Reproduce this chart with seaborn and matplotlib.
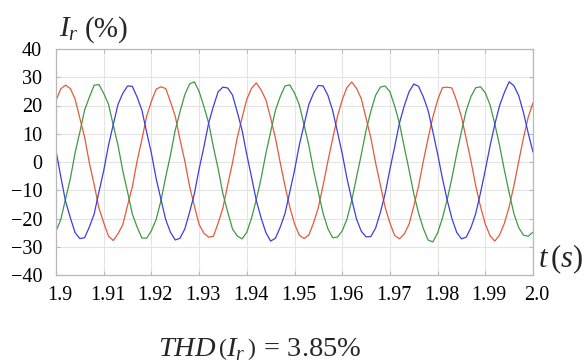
import numpy as np
import pandas as pd
import matplotlib
matplotlib.use("Agg")
import matplotlib.pyplot as plt
import matplotlib.transforms as mtransforms
import seaborn as sns

# time axis (s), step 1 ms
t_start = 1.9
t_step = 0.001

# phase currents (%)
red = [21.8, 25.9, 27.2, 26.0, 22.3, 15.5, 8.8, -0.4, -8.0, -16.3,
       -21.5, -26.2, -27.8, -25.4, -22.2, -15.4, -8.8, 0.3, 7.9, 16.2,
       21.5, 25.8, 26.6, 26.0, 21.3, 16.2, 7.9, 0.4, -8.6, -15.5,
       -22.1, -25.2, -26.6, -26.3, -21.6, -16.2, -8.0, -0.3, 8.6, 15.6,
       22.2, 26.1, 28.0, 25.5, 22.0, 15.6, 8.5, -0.2, -8.4, -15.9,
       -21.9, -25.9, -27.1, -25.9, -21.5, -16.1, -8.2, 0.3, 8.2, 16.1,
       22.0, 26.4, 28.3, 26.1, 22.4, 15.5, 8.6, -0.3, -8.1, -16.0,
       -21.6, -26.0, -27.2, -25.5, -22.1, -15.7, -8.6, 0.2, 8.3, 15.8,
       21.9, 26.3, 26.5, 26.2, 21.6, 16.0, 8.2, 0.3, -8.5, -15.8,
       -22.0, -26.1, -28.0, -25.8, -21.7, -15.9, -8.4, 0.2, 8.5, 15.9,
       21.0]
green = [-24.5, -20.4, -13.1, -5.9, 3.2, 10.6, 18.4, 23.0, 27.2, 27.4,
         24.3, 20.5, 13.1, 5.9, -3.1, -10.6, -18.4, -23.0, -26.9, -27.0,
         -24.3, -20.3, -13.7, -5.3, 2.5, 11.3, 17.8, 23.8, 27.6, 28.4,
         25.0, 19.7, 13.8, 5.3, -2.5, -11.3, -17.7, -23.7, -26.2, -27.2,
         -24.9, -19.8, -13.3, -5.8, 3.0, 10.7, 18.3, 23.1, 26.9, 27.3,
         24.4, 20.3, 13.2, 5.9, -3.0, -10.7, -18.2, -23.6, -26.8, -26.6,
         -24.4, -20.2, -13.6, -5.4, 2.6, 11.2, 17.9, 23.6, 26.5, 26.9,
         24.9, 19.8, 13.7, 5.4, -2.7, -11.2, -18.0, -23.5, -27.6, -28.3,
         -25.1, -19.9, -13.4, -5.7, 2.9, 10.8, 18.2, 23.2, 26.3, 26.6,
         24.5, 20.2, 13.4, 5.8, -2.9, -10.9, -18.3, -23.2, -25.9, -26.3,
         -24.8]
blue = [4.0, -5.2, -13.9, -19.7, -25.0, -27.1, -26.8, -23.0, -18.4, -10.6,
        -3.1, 5.9, 13.2, 20.4, 24.3, 26.9, 26.8, 23.0, 18.4, 10.6,
        3.1, -5.9, -13.2, -20.4, -24.9, -27.6, -27.0, -23.7, -17.8, -11.3,
        -2.5, 5.3, 13.8, 19.7, 24.9, 26.5, 26.2, 23.7, 17.7, 11.3,
        2.6, -5.4, -13.7, -19.8, -25.0, -28.0, -27.0, -23.1, -18.3, -10.7,
        -3.0, 5.9, 13.2, 20.3, 24.4, 27.1, 26.9, 23.6, 18.2, 10.7,
        3.0, -5.8, -13.3, -20.2, -24.5, -26.5, -26.4, -23.4, -17.9, -11.2,
        -2.6, 5.4, 13.8, 19.8, 24.8, 27.6, 26.8, 23.1, 18.3, 10.8,
        2.9, -5.7, -13.4, -20.0, -24.9, -27.2, -26.6, -23.2, -18.2, -10.9,
        -2.8, 5.7, 13.4, 20.0, 24.6, 28.4, 27.0, 23.5, 17.5, 10.2,
        3.5]

xtick_vals = [1.9, 1.91, 1.92, 1.93, 1.94, 1.95, 1.96, 1.97, 1.98, 1.99, 2.0]
xtick_labels = ["1.9", "1.91", "1.92", "1.93", "1.94", "1.95", "1.96", "1.97", "1.98", "1.99", "2.0"]
ytick_vals = [-40, -30, -20, -10, 0, 10, 20, 30, 40]

t = np.round(t_start + t_step * np.arange(len(red)), 4)
df = pd.DataFrame({"t": np.concatenate([t, t, t]),
                   "I": np.concatenate([red, green, blue]),
                   "phase": ["a"] * len(red) + ["b"] * len(green) + ["c"] * len(blue)})

sns.set_theme(style="whitegrid")
plt.rcParams["font.family"] = ["Liberation Serif", "DejaVu Serif"]
plt.rcParams["mathtext.fontset"] = "custom"
plt.rcParams["mathtext.rm"] = "Liberation Serif"
plt.rcParams["mathtext.it"] = "Liberation Serif:italic"

fig = plt.figure(figsize=(5.86, 3.64), dpi=100)
ax = fig.add_axes([56 / 586, 1 - 275 / 364, (533 - 56) / 586, (275 - 49) / 364])

palette = {"a": "#e6593c", "b": "#3f9a44", "c": "#3b3fe0"}
sns.lineplot(data=df, x="t", y="I", hue="phase", palette=palette, ax=ax,
             linewidth=0.9, legend=False)

ax.set_xlim(1.9, 2.0)
ax.set_ylim(-40, 40)
ax.set_xticks(xtick_vals)
ax.set_xticklabels(xtick_labels)
ax.set_yticks(ytick_vals)
ax.set_xlabel("")
ax.set_ylabel("")
ax.set_facecolor("white")
ax.grid(True, color="#e4e4e4", linewidth=0.8)
for s in ax.spines.values():
    s.set_visible(True)
    s.set_color("#b8b8b8")
    s.set_linewidth(0.9)
ax.tick_params(axis="both", which="major", direction="in", length=3, width=0.8,
               color="#b8b8b8", labelsize=14.5, labelcolor="black",
               left=True, bottom=True, right=True, top=True)
ax.tick_params(axis="x", pad=8)
ax.tick_params(axis="y", pad=10)
offset = mtransforms.ScaledTranslation(4 / 100, 0, fig.dpi_scale_trans)
for lab in ax.get_xticklabels():
    lab.set_transform(lab.get_transform() + offset)

# y-axis title
fig.text(59 / 586, 1 - 37 / 364, r"$I_r$", fontsize=21, ha="left", va="baseline")
fig.text(85 / 586, 1 - 37 / 364, "(%)", fontsize=21, ha="left", va="baseline")

# x-axis title t(s)
fig.text(538 / 586, 1 - 267 / 364, r"$t\,(s)$", fontsize=22, ha="left", va="baseline")

# THD annotation
fig.text(260 / 586, 1 - 356 / 364, r"$THD\,\left(I_r\,\right)\,=\,3.85\%$", fontsize=20.5,
         ha="center", va="baseline")

fig.savefig("out.png", dpi=100)
